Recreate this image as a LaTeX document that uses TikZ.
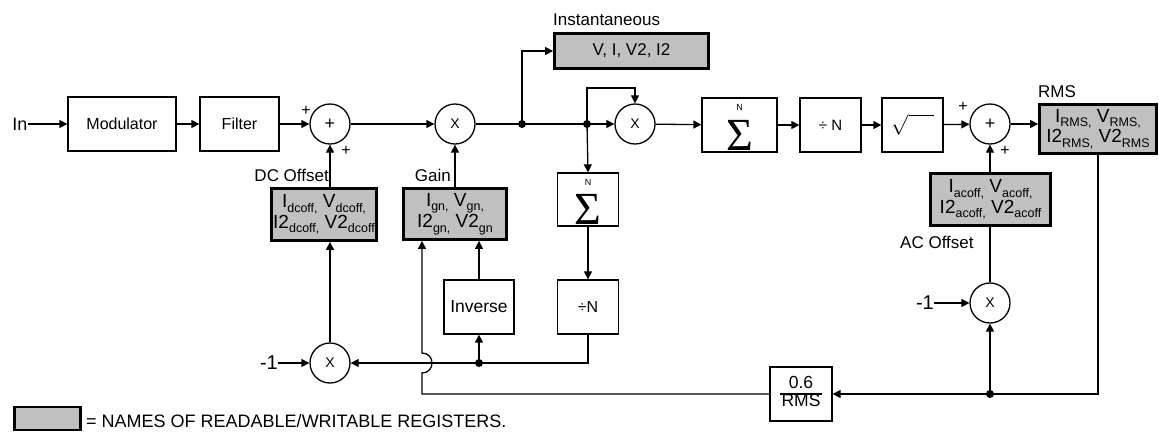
\documentclass[tikz,border=0pt]{standalone}
\usepackage{fontspec}
\setmainfont{Liberation Sans}
\newfontfamily\serifsig{Liberation Serif}
\usetikzlibrary{arrows.meta,calc}
\definecolor{regfill}{RGB}{192,192,192}
\newcommand\fs[1]{\fontsize{#1}{#1}\selectfont}
\newcommand\sbs[1]{\raisebox{-0.25em}{\fontsize{12.5}{12.5}\selectfont #1}}
\tikzset{
  every node/.style={font=\fs{17}},
  blk/.style={draw,line width=1.3pt,inner sep=0pt},
  reg/.style={draw,line width=2.8pt,fill=regfill,inner sep=0pt,align=center,font=\fs{19}},
  circ/.style={draw,circle,line width=1.3pt,minimum size=40pt,inner sep=0pt},
  ln/.style={line width=1.3pt},
  arr/.style={line width=1.3pt,-{Triangle[length=8pt,width=8pt]}},
  dot/.style={circle,fill,inner sep=0pt,minimum size=8pt},
  lbl/.style={inner sep=0pt}
}
\begin{document}
\begin{tikzpicture}[x=1pt,y=-1pt]
\useasboundingbox (0,0) rectangle (1159,432);
% top row
\node[lbl,font=\fs{18}] (in) at (20,124) {In};
\node[blk,minimum width=108pt,minimum height=54pt,font=\fs{16}] (mod) at (122,124) {Modulator};
\node[blk,minimum width=79pt,minimum height=54pt,font=\fs{16}] (filt) at (239.5,124) {Filter};
\node[circ,font=\fs{18}] (sum1) at (330,124) {+};
\node[circ,font=\fs{14}] (gainx) at (455,124) {X};
\node[dot] (j1) at (522,124) {};
\node[dot] (j2) at (587,124) {};
\node[circ,font=\fs{14}] (mulx) at (635,124) {X};
\node[blk,minimum width=75pt,minimum height=54pt] (sig1) at (739.5,125) {};
\node[lbl,font={\serifsig\fs{46}}] (sig1s) at ($(sig1.center)+(0,10)$) {Σ};
\node[lbl,font=\fs{9}] (sig1n) at ($(sig1.north)+(0,10)$) {N};
\node[blk,minimum width=61pt,minimum height=54pt,font=\fs{15}] (divN) at (830.5,125) {÷ N};
\node[blk,minimum width=61pt,minimum height=54pt] (sqr) at (912.5,125) {\fs{22}$\sqrt{\hphantom{M}\,}$};
\node[circ,font=\fs{18}] (sum2) at (990,124) {+};
\node[reg,minimum width=117pt,minimum height=49pt] (rms) at (1098,129) {I\sbs{RMS,} V\sbs{RMS,}\\I2\sbs{RMS,} V2\sbs{RMS}};
\node[reg,minimum width=154pt,minimum height=35pt,font=\fs{17}] (inst) at (631.5,51) {V, I, V2, I2};
% registers
\node[reg,minimum width=105pt,minimum height=52pt] (dc) at (324,214.5) {I\sbs{dcoff,} V\sbs{dcoff,}\\I2\sbs{dcoff,} V2\sbs{dcoff}};
\node[reg,minimum width=103pt,minimum height=51pt] (gain) at (455,214) {I\sbs{gn,} V\sbs{gn,}\\I2\sbs{gn,} V2\sbs{gn}};
\node[reg,minimum width=120pt,minimum height=52pt] (ac) at (990.5,199.5) {I\sbs{acoff,} V\sbs{acoff,}\\I2\sbs{acoff,} V2\sbs{acoff}};
% middle column
\node[blk,minimum width=61pt,minimum height=53pt] (sig2) at (588,199.5) {};
\node[lbl,font={\serifsig\fs{46}}] (sig2s) at ($(sig2.center)+(0,10)$) {Σ};
\node[lbl,font=\fs{9}] (sig2n) at ($(sig2.north)+(0,10)$) {N};
\node[blk,minimum width=70pt,minimum height=54pt,font=\fs{17.5}] (inv) at (479,307) {Inverse};
\node[blk,minimum width=61pt,minimum height=54pt,font=\fs{16}] (divN2) at (588,307) {÷N};
\node[dot] (j3) at (479,363) {};
\node[circ,font=\fs{14}] (x3) at (330,363) {X};
\node[lbl,font=\fs{20},anchor=east] (m1a) at (278,363) {-1};
% right side
\node[circ,font=\fs{14}] (x4) at (990,303) {X};
\node[lbl,font=\fs{20},anchor=east] (m1b) at (934,303) {-1};
\node[dot] (j4) at (990,394) {};
\node[blk,minimum width=62pt,minimum height=54pt,font=\fs{17.5}] (frac) at (801,394)
  {{\arrayrulewidth=1.1pt\renewcommand\arraystretch{0.95}\begin{tabular}{@{\hspace{2pt}}c@{\hspace{2pt}}}0.6\\\hline RMS\end{tabular}}};
\coordinate (hc) at (422,394);
% labels
\node[lbl,font=\fs{16}] (p1) at (306,111) {+};
\node[lbl,font=\fs{16}] (p2) at (346,151) {+};
\node[lbl,font=\fs{16}] (p3) at (963,107) {+};
\node[lbl,font=\fs{16}] (p4) at (1005,151) {+};
\node[lbl,anchor=east] (ldc) at (329,175) {DC Offset};
\node[lbl,anchor=east] (lgain) at (451,175) {Gain};
\node[lbl,anchor=west] (linst) at (553,20) {Instantaneous};
\node[lbl,anchor=west] (lrms) at (1038,92) {RMS};
\node[lbl,anchor=west] (lac) at (900,242) {AC Offset};
% legend
\node[draw,line width=2.8pt,fill=regfill,minimum width=66pt,minimum height=23pt,inner sep=0pt] (leg) at (47.5,418.5) {};
\node[lbl,anchor=west,font=\fs{18}] (legt) at (86,421) {= NAMES OF READABLE/WRITABLE REGISTERS.};
% connectors
\draw[arr] (in) -- (mod);
\draw[arr] (mod) -- (filt);
\draw[arr] (filt) -- (sum1);
\draw[arr] (sum1) -- (gainx);
\draw[ln] (gainx) -- (j1.center) -- (j2.center);
\draw[arr] (j2.center) -- (mulx);
\draw[arr] (j1.center) |- (inst.west);
\draw[arr] (j2.center) -- ($(j2)+(0,-36)$) -| (mulx.north);
\draw[arr] (j2.center) -- (sig2.north);
\draw[arr] (mulx) -- (sig1);
\draw[arr] (sig1) -- (divN);
\draw[arr] (divN) -- (sqr);
\draw[arr] (sqr) -- (sum2);
\draw[arr] (sum2) -- (sum2 -| rms.west);
\draw[arr] (sum1 |- dc.north) -- (sum1.south);
\draw[arr] (gain) -- (gainx);
\draw[arr] (ac.north -| sum2) -- (sum2.south);
\draw[arr] (sig2) -- (divN2);
\draw[ln] (divN2.south) |- (j3.center);
\draw[arr] (j3.center) -- (x3.east);
\draw[arr] (j3.center) -- (inv.south);
\draw[arr] (inv.north) -- (inv.north |- gain.south);
\draw[arr] (x3) -- (x3 |- dc.south);
\draw[arr] (m1a) -- (x3);
\draw[ln] (x4.north) -- (x4 |- ac.south);
\draw[arr] (m1b) -- (x4);
\draw[ln] (rms.south) |- (j4.center);
\draw[arr] (j4.center) -- (frac.east);
\draw[arr] (j4.center) -- (x4.south);
\coordinate (hop) at (hc |- j3);
\draw[arr] (frac.west) -- (hc) -- ($(hop)+(0,10)$) .. controls ($(hop)+(13.3,10)$) and ($(hop)+(13.3,-10)$) .. ($(hop)+(0,-10)$) -- (hc |- gain.south);
\end{tikzpicture}
\end{document}
